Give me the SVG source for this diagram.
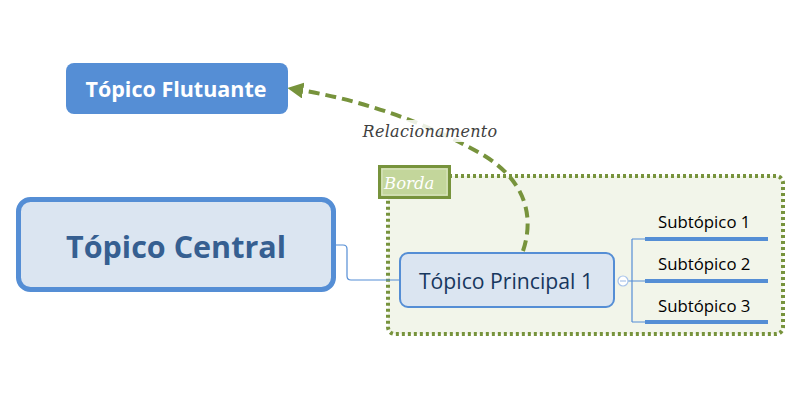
<svg xmlns="http://www.w3.org/2000/svg" width="800" height="400" viewBox="0 0 800 400">
<defs>
<marker id="arr" viewBox="0 0 10 10" refX="2" refY="5" markerWidth="4" markerHeight="4" orient="auto-start-reverse" markerUnits="strokeWidth">
<path d="M0,0 L10,5 L0,10 z" fill="#77933C"/>
</marker>
<style>
.sans{font-family:"Open Sans","Noto Sans","DejaVu Sans",sans-serif}
.serif{font-family:"DejaVu Serif","Liberation Serif",serif;font-style:italic}
.sub{font-size:16.8px;fill:#000}
.ul{stroke:#558ED5;stroke-width:4}
.thin{stroke:#558ED5;stroke-width:1.2;fill:none}
</style>
</defs>
<rect width="800" height="400" fill="#fff"/>
<g id="borda">
<rect x="388" y="176" width="395" height="158" rx="7" fill="#F2F5EA" stroke="#77933C" stroke-width="4" stroke-dasharray="3,3"/>
<rect x="379.5" y="166.5" width="70" height="31" fill="#C3D69B" stroke="#77933C" stroke-width="3"/>
<rect x="382" y="169" width="65" height="26" fill="none" stroke="#E4ECD0" stroke-width="0.8"/>
<text x="384" y="189" class="serif" font-size="16.5" fill="#fff">Borda</text>
</g>
<g id="connectors">
<path class="thin" d="M336,245 H343 Q347,245 347,249 V276 Q347,280 351,280 H400"/>
<path class="thin" d="M628,281 H645 M632,239 V322 M632,239 H645 M632,322 H645"/>
<path d="M523,251 C535,215 525,178 478,152 C420,120 360,100 300,90" fill="none" stroke="#77933C" stroke-width="4" stroke-dasharray="11,6" marker-end="url(#arr)"/>
</g>
<g id="rel-label">
<rect x="361" y="120" width="139" height="22" fill="#fff" opacity="0.85"/>
<text x="430" y="137" class="serif" font-size="16" letter-spacing="0.3" fill="#404040" text-anchor="middle">Relacionamento</text>
</g>
<g id="flutuante">
<rect x="66" y="63" width="222" height="51" rx="8" fill="#558ED5"/>
<text x="176" y="97" class="sans" font-size="21.5" font-weight="bold" fill="#fff" text-anchor="middle">Tópico Flutuante</text>
</g>
<g id="central">
<rect x="18.5" y="199.5" width="315" height="90" rx="12" fill="#DBE5F1" stroke="#558ED5" stroke-width="5"/>
<text x="176" y="258" class="sans" font-size="30.5" font-weight="bold" fill="#365F91" text-anchor="middle">Tópico Central</text>
</g>
<g id="principal">
<rect x="400" y="253" width="214" height="54" rx="8" fill="#DBE5F1" stroke="#558ED5" stroke-width="2"/>
<text x="506" y="289" class="sans" font-size="21.2" fill="#17375E" text-anchor="middle">Tópico Principal 1</text>
<circle cx="623" cy="281" r="5" fill="#fff" stroke="#A9C4EA" stroke-width="1.2"/>
<line x1="620" y1="281" x2="626" y2="281" stroke="#A9C4EA" stroke-width="1.2"/>
</g>
<g id="sub1">
<line class="ul" x1="645" y1="239" x2="768" y2="239"/>
<text x="658" y="228" class="sans sub">Subtópico 1</text>
</g>
<g id="sub2">
<line class="ul" x1="645" y1="281" x2="768" y2="281"/>
<text x="658" y="270" class="sans sub">Subtópico 2</text>
</g>
<g id="sub3">
<line class="ul" x1="645" y1="322" x2="768" y2="322"/>
<text x="658" y="312" class="sans sub">Subtópico 3</text>
</g>
</svg>
